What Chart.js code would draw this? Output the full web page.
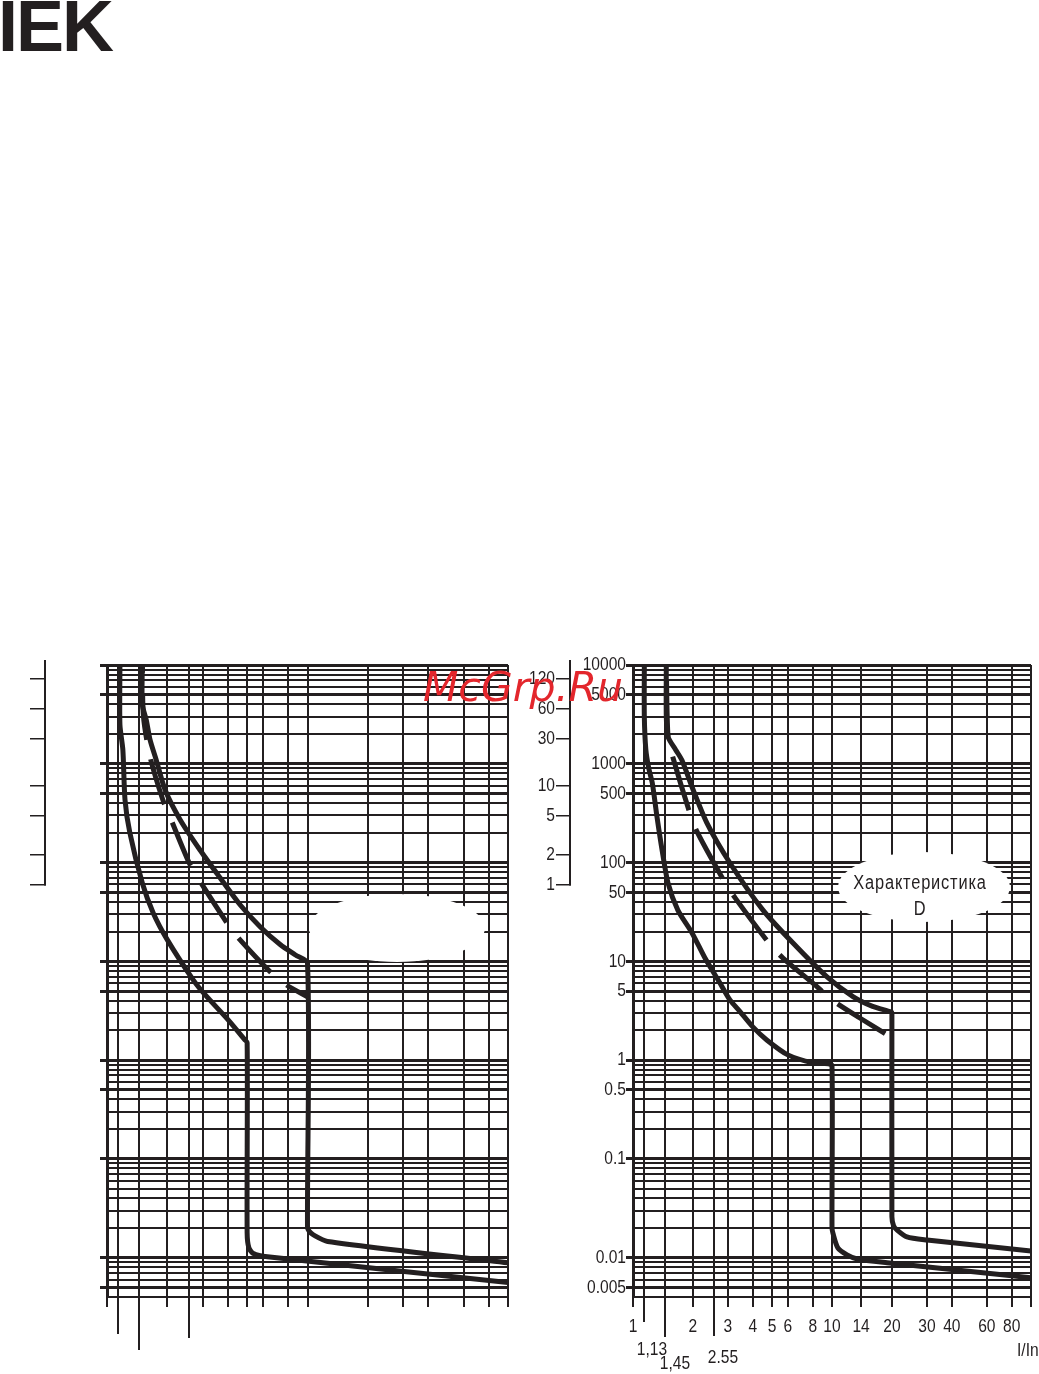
<!DOCTYPE html>
<html>
<head>
<meta charset="utf-8">
<script src="https://cdn.jsdelivr.net/npm/chart.js@4.4.1/dist/chart.umd.min.js"></script>
<style>
  html, body { margin:0; padding:0; background:#fff; width:1039px; height:1374px; overflow:hidden; position:relative; }
  body { font-family:"Liberation Sans",Arial,sans-serif; color:#231f20; }
  canvas { position:absolute; }
  #cL { left:0; top:640px; }
  #cR { left:520px; top:640px; }
  #logo { position:absolute; left:-2px; top:-10px; font:bold 72px "Liberation Sans",Arial,sans-serif; letter-spacing:-2px; line-height:72px; color:#231f20; }
  #wm { position:absolute; left:423px; top:667px; font:italic 41px "DejaVu Sans",sans-serif; line-height:41px; color:#e3262c; z-index:5; white-space:nowrap; }
  #charD { position:absolute; left:820px; top:869px; width:200px; text-align:center; font-size:20px; letter-spacing:1px; line-height:26px; z-index:4; transform:scaleX(0.82); transform-origin:50% 50%; }
  #unit { position:absolute; left:1017px; top:1338px; font-size:19px; line-height:24px; z-index:4; white-space:nowrap; transform:scaleX(0.82); transform-origin:0 50%; }
</style>
</head>
<body>
<div id="logo">IEK</div>
<canvas id="cL" width="520" height="734"></canvas>
<canvas id="cR" width="519" height="734"></canvas>
<div id="charD">Характеристика<br>D</div>
<div id="unit">I/In</div>
<div id="wm">McGrp.Ru</div>
<script>
// ---------------- data ----------------
// x: multiple of rated current I/In, y: tripping time, s
const xGridD = [1, 1.13, 1.45, 2, 2.55, 3, 4, 5, 6, 8, 10, 14, 20, 30, 40, 60, 80, 100];
const xGridC = [1, 1.13, 1.45, 2, 2.55, 3, 4, 5, 6, 8, 10, 20, 30, 40, 60, 80, 100];
const xLabelValues = [1, 2, 3, 4, 5, 6, 8, 10, 14, 20, 30, 40, 60, 80];
const xLabelTexts  = ['1','2','3','4','5','6','8','10','14','20','30','40','60','80'];
const xSubValues = [1.13, 1.45, 2.55];
const xSubTexts  = ['1,13', '1,45', '2.55'];
const yLabelValues = [10000, 5000, 1000, 500, 100, 50, 10, 5, 1, 0.5, 0.1, 0.01, 0.005];
const yLabelTexts  = ['10000','5000','1000','500','100','50','10','5','1','0.5','0.1','0.01','0.005'];
const yGridMultipliers = [1, 2, 3, 4, 5, 6, 7, 8, 9];
const yGridExponents = [-3, -2, -1, 0, 1, 2, 3];
const yMin = 0.004, yMax = 10000;
const minuteValues = [120, 60, 30, 10, 5, 2, 1];
const minuteTexts  = ['120', '60', '30', '10', '5', '2', '1'];

// Characteristic D (right chart)
const dLowerX = [1.14, 1.14, 1.16, 1.2, 1.25, 1.32, 1.40, 1.5, 1.68, 1.98, 2.3, 2.74, 3.07, 3.45, 4.0, 4.7, 6.0, 8.0, 9.6, 10, 10, 10.1, 10.7, 11.9, 13.4, 18.9, 100];
const dLowerY = [10000, 3000, 1400, 900, 640, 290, 134, 62, 33, 19.4, 10.8, 6.0, 4.07, 3.1, 2.17, 1.6, 1.13, 0.94, 0.92, 0.88, 0.0205, 0.0178, 0.01256, 0.01067, 0.0097, 0.0089, 0.00625];
const dUpperX = [1.47, 1.47, 1.5, 1.64, 1.76, 1.98, 2.35, 3.07, 4.5, 6.37, 9.44, 12.8, 16, 19.8, 20, 20, 20.4, 21.2, 23.8, 30, 100];
const dUpperY = [10000, 3000, 1870, 1380, 1092, 582, 252, 99, 33, 15.3, 6.95, 4.37, 3.5, 3.08, 3.0, 0.026, 0.021, 0.0191, 0.0162, 0.0151, 0.0117];
const dMidX = [1.47, 1.5, 1.59, 1.93, 2.10, 2.87, 3.26, 4.82, 5.67, 8.21, 10.0, 13.8, 20];
const dMidY = [10000, 1870, 1145, 318, 204, 65, 43.9, 15.3, 10.8, 5.77, 4.07, 2.67, 1.68];

// Characteristic C (left chart, unlabelled)
const cLowerX = [1.16, 1.16, 1.2, 1.23, 1.3, 1.5, 1.7, 2.0, 2.69, 3.09, 3.98, 4.85, 5, 5, 5.1, 5.37, 6.31, 100];
const cLowerY = [10000, 2500, 1380, 430, 200, 62, 30.9, 16.5, 6.5, 4.57, 2.61, 1.62, 1.5, 0.0178, 0.0126, 0.011, 0.0102, 0.0056];
const cUpperX = [1.5, 1.5, 1.57, 1.64, 1.76, 1.95, 2.32, 2.91, 3.67, 4.62, 5.82, 7.33, 8.71, 10, 10, 10.2, 10.7, 12.6, 100];
const cUpperY = [10000, 4000, 2776, 1742, 1092, 543, 270, 134, 69.8, 37.2, 22.3, 14.7, 11.6, 9.6, 0.0205, 0.0185, 0.017, 0.0146, 0.00886];
const cMidX = [1.5, 1.52, 1.64, 1.9, 2.09, 2.57, 2.88, 3.94, 4.47, 6.53, 7.85, 10];
const cMidY = [10000, 3000, 1172, 430, 270, 99, 66.7, 25, 17.7, 7.8, 5.77, 4.37];

// ---------------- helpers ----------------
const ink = '#231f20';
const fontFamily = '"Liberation Sans",Arial,sans-serif';
const narrow = 0.82;
Chart.defaults.font.family = fontFamily;
Chart.defaults.font.size = 19;
Chart.defaults.color = ink;

const yGrid = [];
yGridExponents.forEach(e => yGridMultipliers.forEach(m => {
  const v = parseFloat((m * Math.pow(10, e)).toPrecision(6));
  if (v >= yMin - 1e-12) yGrid.push(v);
}));
yGrid.push(yMax);

function same(a, b) { return Math.abs(Math.log10(a / b)) < 1e-6; }
function lookup(v, vals, texts) {
  for (let i = 0; i < vals.length; i++) if (same(v, vals[i])) return texts[i];
  return '';
}
function isYLabeled(v) { return yLabelValues.some(l => same(v, l)); }
function pts(xs, ys) { return xs.map((x, i) => ({ x: x, y: ys[i] })); }

// condensed (narrow) rendering of axis labels: tick labels are drawn after translate+rotate
function condenseLabels(canvas) {
  const ctx = canvas.getContext('2d');
  const rot = ctx.rotate.bind(ctx);
  ctx.rotate = function (a) { rot(a); ctx.scale(narrow, 1); };
}

const overlay = {
  id: 'overlay',
  beforeDatasetsDraw(chart, args, o) {
    const { ctx, chartArea, scales } = chart;
    ctx.save();
    ctx.fillStyle = '#ffffff';
    ctx.beginPath();
    ctx.ellipse(o.cloud[0], o.cloud[1], o.cloud[2], o.cloud[3], 0, 0, Math.PI * 2);
    ctx.fill();
    const ym = scales.ymin;
    ctx.strokeStyle = ink;
    ctx.lineWidth = 2;
    ctx.beginPath();
    ctx.moveTo(ym.right - 1, chartArea.top - 5);
    ctx.lineTo(ym.right - 1, ym.getPixelForValue(60) + 1);
    ctx.stroke();
    ctx.font = '19px ' + fontFamily;
    ctx.fillStyle = ink;
    ctx.textAlign = 'center';
    ctx.textBaseline = 'middle';
    xSubValues.forEach((v, i) => {
      const px = Math.round(scales.x.getPixelForValue(v));
      ctx.beginPath();
      ctx.moveTo(px, chartArea.bottom);
      ctx.lineTo(px, chartArea.bottom + o.longTicks[i]);
      ctx.stroke();
      if (o.showLabels) {
        ctx.save();
        ctx.translate(px + o.subDx[i], chartArea.bottom + o.subDy[i]);
        ctx.scale(narrow, 1);
        ctx.fillText(xSubTexts[i], 0, 0);
        ctx.restore();
      }
    });
    ctx.restore();
  }
};

function build(id, o) {
  const canvas = document.getElementById(id);
  condenseLabels(canvas);
  const sets = o.curves.map(c => ({
    data: pts(c.x, c.y),
    borderColor: ink, backgroundColor: ink, borderWidth: 5,
    pointRadius: 0, tension: 0.25, fill: false,
    borderDash: c.dash || [], borderDashOffset: c.dashOffset || 0,
    borderCapStyle: 'butt', borderJoinStyle: 'round'
  }));
  return new Chart(canvas, {
    type: 'line',
    data: { datasets: sets },
    options: {
      responsive: false, animation: false, devicePixelRatio: 1,
      layout: { padding: { top: 25, right: o.padRight, left: 0, bottom: 0 } },
      plugins: { legend: { display: false }, tooltip: { enabled: false }, overlay: o.overlay },
      scales: {
        x: {
          type: 'logarithmic', min: 1, max: 100, position: 'bottom',
          afterBuildTicks: s => { s.ticks = o.xGrid.map(v => ({ value: v })); },
          afterFit: s => { s.height = 77; },
          ticks: { autoSkip: false, maxRotation: 0, minRotation: 0, padding: 8, color: ink,
                   callback: v => o.showLabels ? lookup(v, xLabelValues, xLabelTexts) : '' },
          grid: { color: ink, lineWidth: 2, tickLength: 10, tickColor: ink, tickWidth: 2 },
          border: { display: false }
        },
        y: {
          type: 'logarithmic', min: yMin, max: yMax, position: 'left', weight: 0,
          afterBuildTicks: s => { s.ticks = yGrid.map(v => ({ value: v })); },
          afterFit: s => { s.width = o.yWidth; },
          ticks: { autoSkip: false, padding: 0, color: ink,
                   callback: v => o.showLabels ? lookup(v, yLabelValues, yLabelTexts) : '' },
          grid: { color: ink, lineWidth: c => isYLabeled(c.tick.value) ? 3 : 2, tickLength: 7,
                  tickColor: c => isYLabeled(c.tick.value) ? ink : 'rgba(0,0,0,0)', tickWidth: 3 },
          border: { display: true, color: ink, width: 3 }
        },
        ymin: {
          type: 'logarithmic', min: yMin, max: yMax, position: 'left', weight: 1,
          afterBuildTicks: s => { s.ticks = minuteValues.map(m => ({ value: m * 60 })); },
          afterFit: s => { s.width = o.minWidth; },
          ticks: { autoSkip: false, padding: 1, color: ink,
                   callback: v => o.showLabels ? lookup(v / 60, minuteValues, minuteTexts) : '' },
          grid: { drawOnChartArea: false, color: ink, lineWidth: 1.5, tickLength: o.minTick, tickColor: ink, tickWidth: 1.5 },
          border: { display: false }
        }
      }
    },
    plugins: [overlay]
  });
}

build('cL', {
  xGrid: xGridC, showLabels: false, padRight: 12, yWidth: 61, minWidth: 46, minTick: 16,
  curves: [
    { x: cLowerX, y: cLowerY },
    { x: cUpperX, y: cUpperY },
    { x: cMidX, y: cMidY, dash: [47, 20], dashOffset: 39 }
  ],
  overlay: { cloud: [397, 288, 88, 34], longTicks: [37, 53, 41], subDx: [0, 0, 0], subDy: [0, 0, 0], showLabels: false }
});

build('cR', {
  xGrid: xGridD, showLabels: true, padRight: 8, yWidth: 62, minWidth: 51, minTick: 15,
  curves: [
    { x: dLowerX, y: dLowerY },
    { x: dUpperX, y: dUpperY },
    { x: dMidX, y: dMidY, dash: [56, 20], dashOffset: 60 }
  ],
  overlay: { cloud: [404, 247, 86, 35], longTicks: [25, 40, 39], subDx: [8, 10, 9], subDy: [53, 67, 61], showLabels: true }
});
</script>
</body>
</html>
